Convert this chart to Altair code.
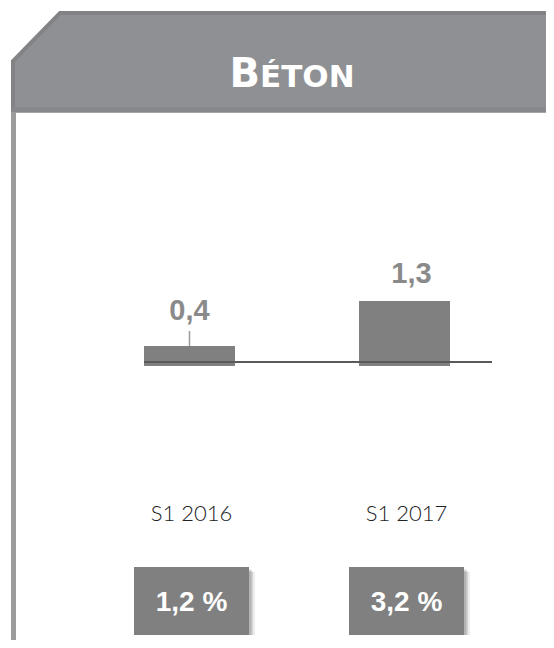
import altair as alt
import pandas as pd

# ---- data ----
categories = ["S1 2016", "S1 2017"]
values = [0.4, 1.3]
value_labels = ["0,4", "1,3"]
pct_labels = ["1,2 %", "3,2 %"]
title_first = "B"
title_rest = "ÉTON"

# header outline (decoration, pixel space)
hdr_x = [5, 5, 52, 546]
hdr_y = [104, 53, 5, 5]

W, H = 538, 632

df = pd.DataFrame({"cat": categories, "val": values,
                   "vlabel": value_labels, "pct": pct_labels})
hdr = pd.DataFrame({"x": hdr_x, "y": hdr_y, "o": list(range(len(hdr_x)))})

xband = alt.Scale(type="band", domain=categories, range=[136, 442],
                  paddingInner=0.5767, paddingOuter=0)
yval = alt.Scale(domain=[-5.48, 7.16], range=[H, 0], nice=False, zero=False)
px = alt.Scale(domain=[0, W], range=[0, W], nice=False, zero=False)
py = alt.Scale(domain=[0, H], range=[0, H], nice=False, zero=False)

X = alt.X("cat:N", scale=xband, axis=None)
Y = alt.Y("val:Q", scale=yval, axis=None)

base = alt.Chart(df)

# header
hdr_fill = alt.Chart(hdr).transform_filter(alt.datum.o > 0).mark_area(
    color="#8f9094", opacity=1).encode(
    x=alt.X("x:Q", scale=px, axis=None),
    y=alt.Y("y:Q", scale=py, axis=None, stack=None),
    y2=alt.datum(104),
)
hdr_line = alt.Chart(hdr).mark_line(color="#838386", strokeWidth=4).encode(
    x=alt.X("x:Q", scale=px, axis=None),
    y=alt.Y("y:Q", scale=py, axis=None),
    order="o:Q",
)
hdr_bottom = base.mark_rule(color="#87888b", strokeWidth=5).encode(
    x=alt.value(3), x2=alt.value(W), y=alt.value(102)
)
panel_left = base.mark_rule(color="#9c9c9c", strokeWidth=5).encode(
    x=alt.value(5.5), y=alt.value(104), y2=alt.value(H)
)

t1 = alt.Chart(pd.DataFrame({"t": [title_first]})).mark_text(
    font="DejaVu Sans", fontWeight="bold", fontSize=40, color="white",
    align="right", baseline="alphabetic"
).encode(text="t:N", x=alt.value(252), y=alt.value(79))
t2 = alt.Chart(pd.DataFrame({"t": [title_rest]})).mark_text(
    font="DejaVu Sans", fontWeight="bold", fontSize=31, color="white",
    align="left", baseline="alphabetic"
).encode(text="t:N", x=alt.value(252), y=alt.value(79))

# bars
bars = base.mark_bar(color="#808080").encode(x=X, y=Y, y2=alt.datum(0))
baseline = base.mark_rule(color="#5a5a5a", strokeWidth=2).encode(
    x=alt.value(136), x2=alt.value(484), y=alt.value(354)
)
leader = base.mark_rule(color="#9a9a9a", strokeWidth=1.5).transform_filter(
    alt.datum.cat == categories[0]
).encode(x=X, y=Y, y2=alt.value(323))

lab_style = dict(font="Liberation Sans", fontWeight="bold", fontSize=29,
                 color="#8a8a8a", baseline="alphabetic", align="center")
lab1 = base.mark_text(dy=-26, **lab_style).transform_filter(
    alt.datum.cat == categories[0]).encode(x=X, y=Y, text="vlabel:N")
lab2 = base.mark_text(dy=-18, dx=7, **lab_style).transform_filter(
    alt.datum.cat == categories[1]).encode(x=X, y=Y, text="vlabel:N")

cat_text = base.mark_text(font="Lato", fontWeight=300, fontSize=22, color="#222222",
                          baseline="alphabetic", align="center", dx=2).encode(
    x=X, y=alt.value(513), text="cat:N")

# percentage boxes
def box(off, w, color, op):
    return base.mark_bar(width=w, color=color, opacity=op,
                         xOffset=2 + off, yOffset=off).encode(
        x=X, y=alt.value(559), y2=alt.value(627))

shadows = [box(5, 117, "#000000", 0.07), box(4, 115, "#000000", 0.1),
           box(2.5, 115, "#000000", 0.15)]
boxes = box(0, 115, "#808080", 1)
pct_text = base.mark_text(font="Liberation Sans", fontWeight="bold", fontSize=28,
                          color="white", baseline="alphabetic", align="center",
                          dx=2).encode(x=X, y=alt.value(603), text="pct:N")

chart = alt.layer(
    hdr_fill, hdr_line, hdr_bottom, panel_left, t1, t2,
    bars, baseline, leader, lab1, lab2, cat_text,
    *shadows, boxes, pct_text
).resolve_scale(x="independent", y="independent").properties(
    width=W, height=H, padding=0, autosize=alt.AutoSizeParams(type="none"),
    background="white"
).configure_view(strokeWidth=0)

chart.save("out.html", embed_options={"renderer": "svg", "actions": False})
